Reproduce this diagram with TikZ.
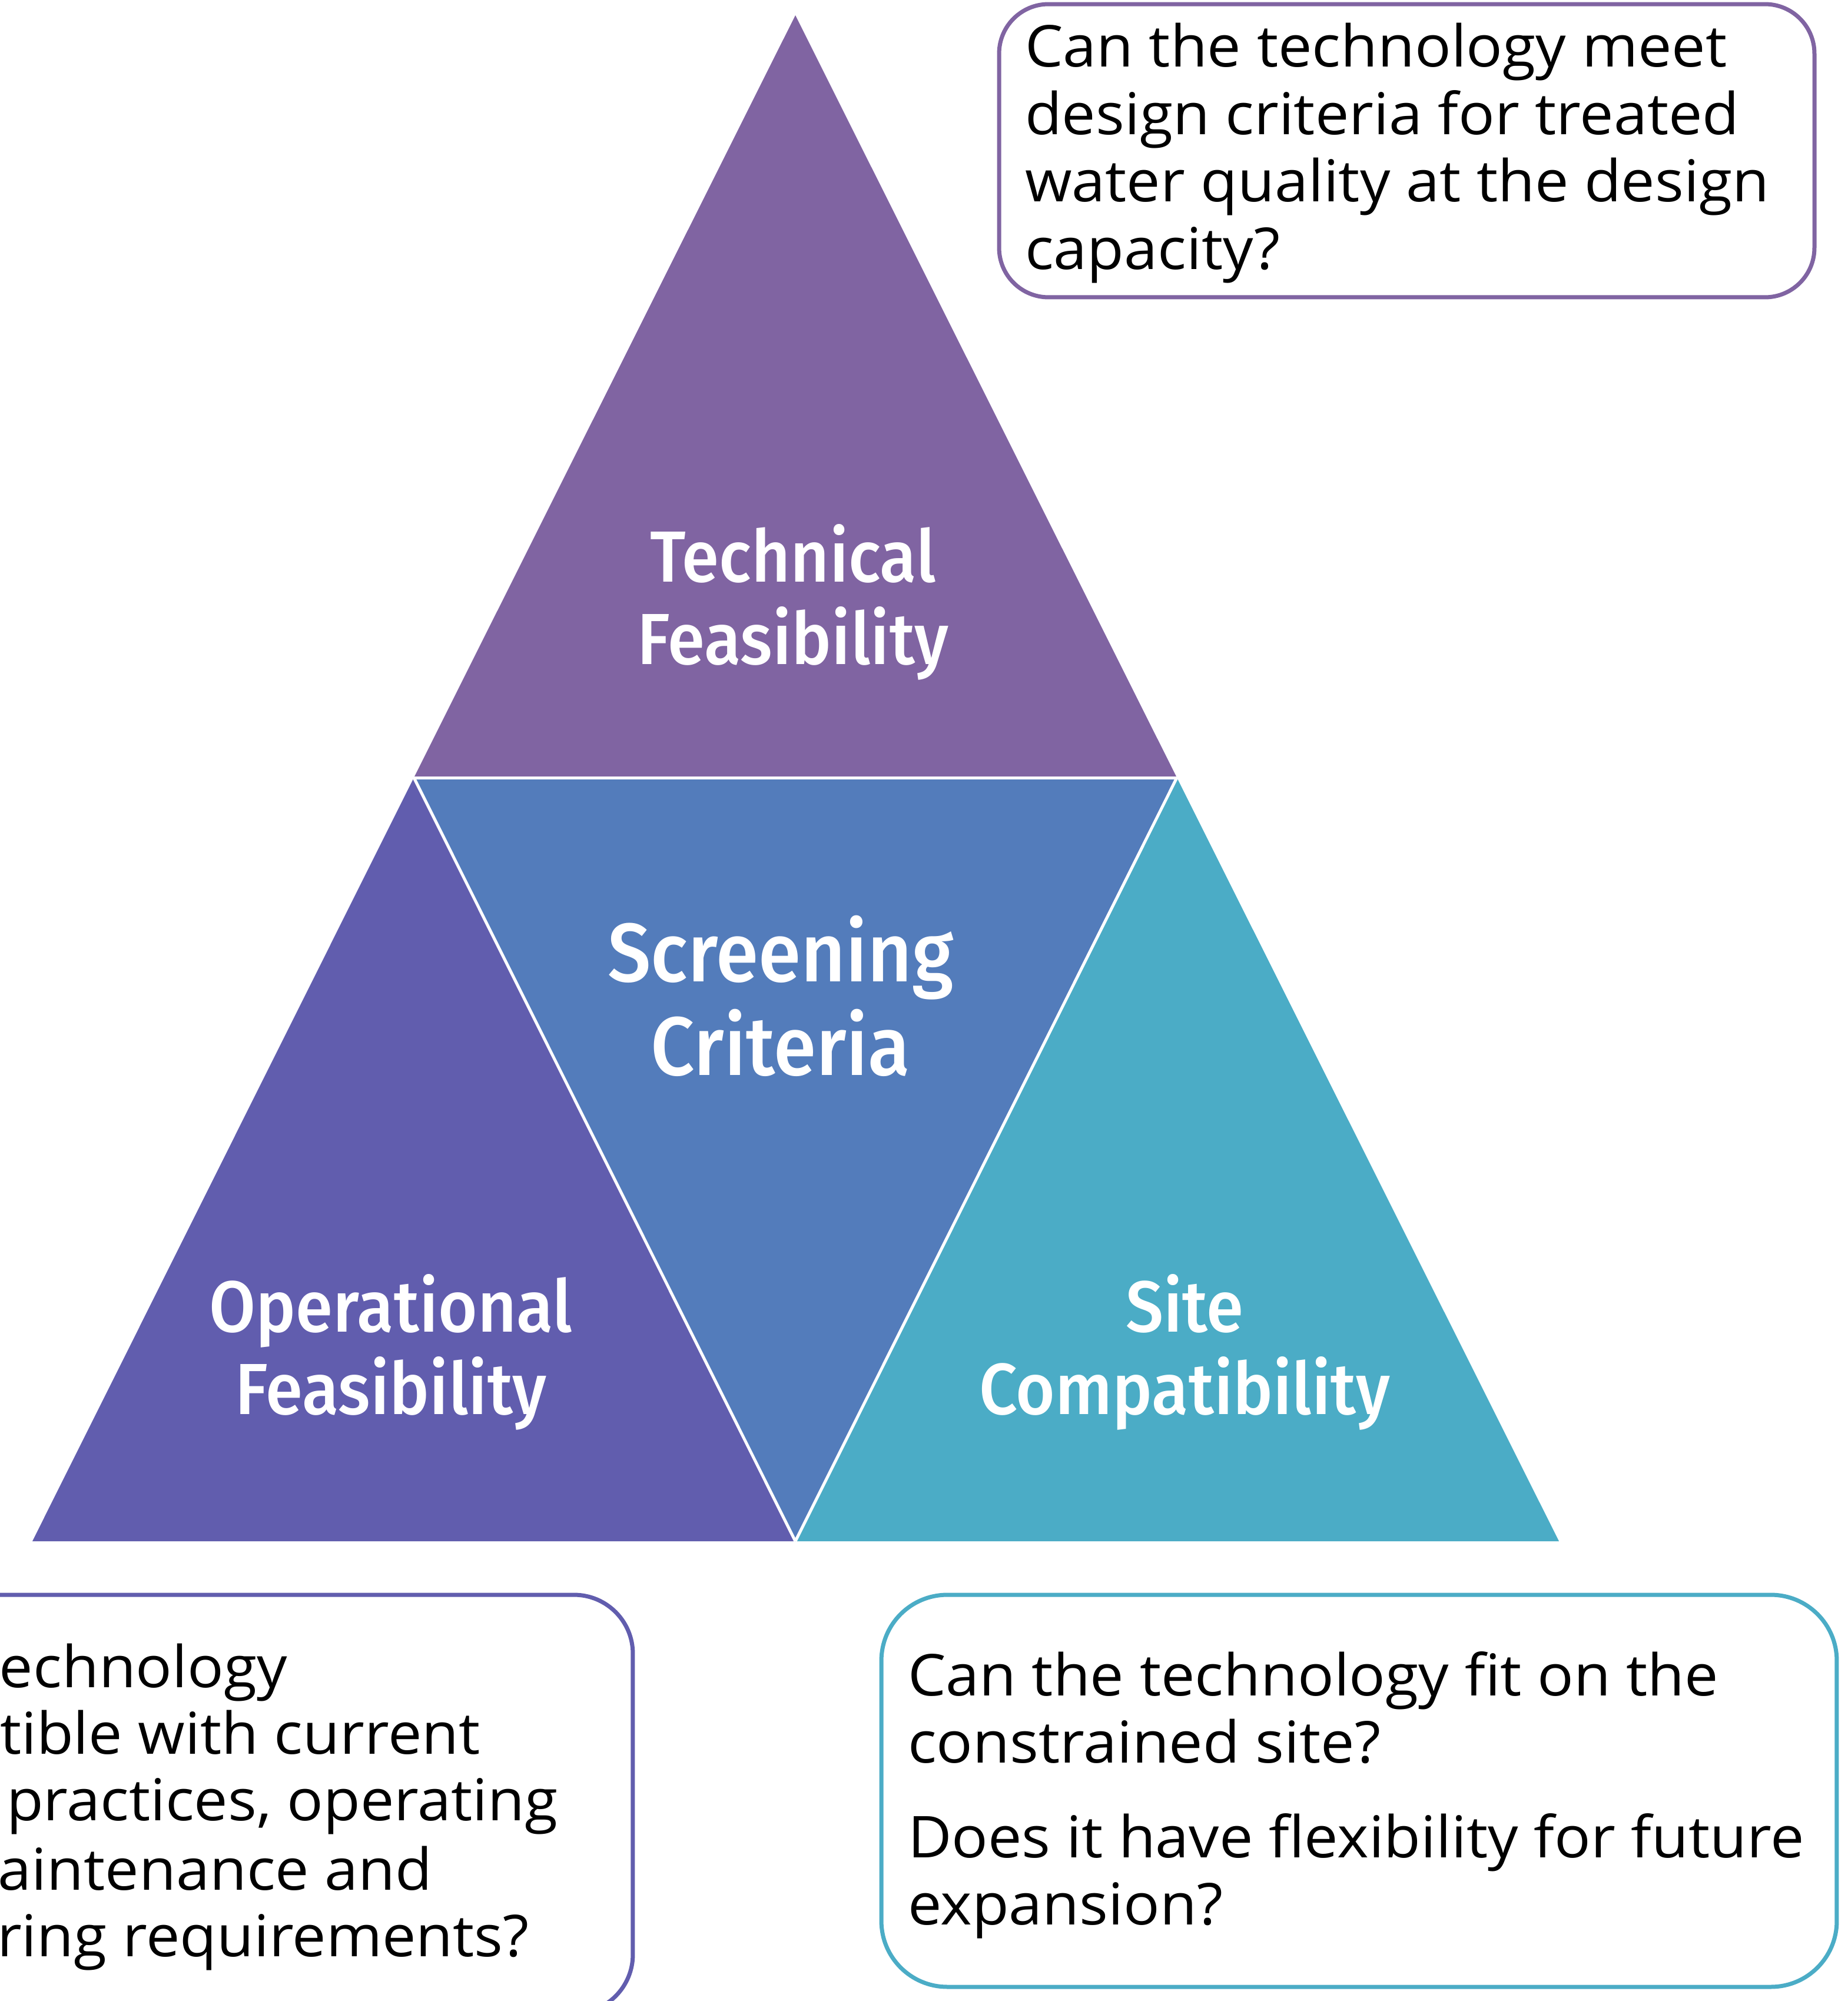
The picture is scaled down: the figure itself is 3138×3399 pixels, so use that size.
\documentclass[tikz,border=0pt]{standalone}
\usepackage{fontspec}
\setmainfont{Open Sans}[FakeStretch=1.045]
\newfontfamily\labelfont{Fira Sans Medium}[FakeStretch=0.93]
\definecolor{ctop}{HTML}{8064A2}
\definecolor{cmid}{HTML}{537CBB}
\definecolor{cleft}{HTML}{615DAE}
\definecolor{cright}{HTML}{4BACC6}
\tikzset{
  qbox/.style={draw, line width=0.7pt, fill=white, rounded corners=#1, inner sep=0pt},
  qtext/.style={anchor=base west, inner sep=0pt, text=black, font=\fontsize{9.8pt}{11.4pt}\selectfont},
  lab/.style={anchor=base, inner sep=0pt, text=white, font=\labelfont\fontsize{12.3pt}{14pt}\selectfont},
  biglab/.style={anchor=base, inner sep=0pt, text=white, font=\labelfont\fontsize{14.1pt}{16pt}\selectfont},
  sep/.style={draw=white, line width=0.5pt}
}
\begin{document}
\begin{tikzpicture}[x=0.1pt,y=-0.1pt]
\useasboundingbox (0,0) rectangle (3138,3399);
\clip (0,0) rectangle (3138,3399);
\coordinate (A) at (1351,26);
\coordinate (ML) at (703,1321);
\coordinate (MR) at (1999,1321);
\coordinate (BL) at (55,2618);
\coordinate (BM) at (1351,2618);
\coordinate (BR) at (2648,2618);
% triangles
\fill[ctop] (A) -- (ML) -- (MR) -- cycle;
\fill[cmid] (ML) -- (MR) -- (BM) -- cycle;
\fill[cleft] (ML) -- (BL) -- (BM) -- cycle;
\fill[cright] (MR) -- (BM) -- (BR) -- cycle;
\draw[sep] (ML) -- (MR);
\draw[sep] (ML) -- (BM);
\draw[sep] (MR) -- (BM);
% labels
\node[lab] (t1) at (1347,988) {Technical};
\node[lab] (t2) at (1347,1128) {Feasibility};
\node[biglab] (s1) at (1326,1667) {Screening};
\node[biglab] (s2) at (1326,1826) {Criteria};
\node[lab] (o1) at (664,2262) {Operational};
\node[lab] (o2) at (664,2402) {Feasibility};
\node[lab] (c1) at (2012,2262) {Site};
\node[lab] (c2) at (2012,2402) {Compatibility};
% question boxes
\node[qbox=8.4pt, draw=ctop, minimum width=138.5pt, minimum height=49.8pt] (qt) at (2389.5,256) {};
\node[qbox=11.2pt, draw=cright, minimum width=162.3pt, minimum height=66.6pt] (qr) at (2308.5,3042) {};
\node[qbox=10pt, draw=cleft, minimum width=167.5pt, minimum height=71.1pt] (ql) at (237.5,3064.5) {};
% top box text
\node[qtext] (qt1) at (1739,114) {Can the technology meet};
\node[qtext] (qt2) at (1739,229) {design criteria for treated};
\node[qtext] (qt3) at (1739,343) {water quality at the design};
\node[qtext] (qt4) at (1739,458) {capacity?};
% bottom right text
\node[qtext] (qr1) at (1540,2880) {Can the technology fit on the};
\node[qtext] (qr2) at (1540,2994) {constrained site?};
\node[qtext] (qr3) at (1540,3155) {Does it have flexibility for future};
\node[qtext] (qr4) at (1540,3269) {expansion?};
% bottom left text (clipped by the picture edge)
\node[qtext] (ql1) at (-3,2866) {echnology};
\node[qtext] (ql2) at (-2,2979) {tible with current};
\node[qtext] (ql3) at (9,3092) {practices, operating};
\node[qtext] (ql4) at (-5,3210) {aintenance and};
\node[qtext] (ql5) at (-7,3323) {ring requirements?};
\end{tikzpicture}
\end{document}
